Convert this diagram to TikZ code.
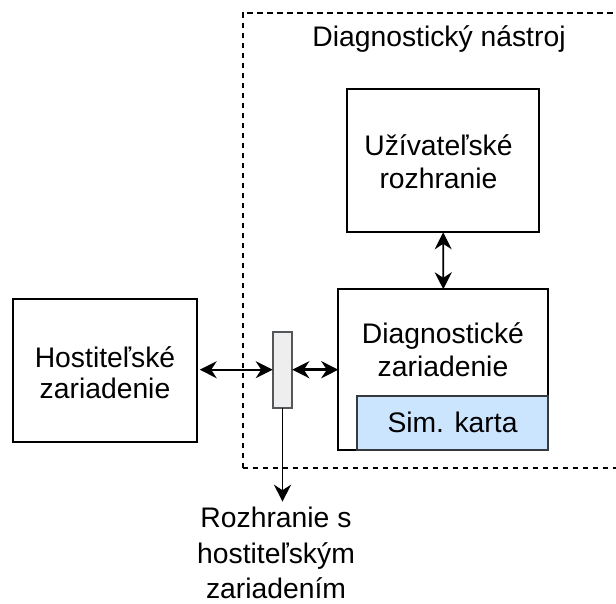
\documentclass[tikz,border=0pt]{standalone}
\usepackage{fontspec}
\setmainfont{Liberation Sans}
\usetikzlibrary{arrows.meta}
\definecolor{simfill}{HTML}{CCE5FF}
\definecolor{darkedge}{HTML}{36393D}
\definecolor{ifacefill}{HTML}{EEEEEE}
% fixed height for the first line of a multi-line label
\newcommand\firststrut{\rule{0pt}{26pt}}

\begin{document}
\begin{tikzpicture}[x=1pt,y=-1pt,
  box/.style={draw=black, line width=1.8pt, inner sep=0pt, outer sep=0pt},
  frame/.style={draw=black, line width=1.8pt, dash pattern=on 5.5pt off 4.5pt, inner sep=0pt, outer sep=0pt},
  txt/.style={inner sep=0pt, align=center, anchor=north},
  link/.style={line width=1.8pt, {Stealth[length=17pt, width=17pt, inset=5.5pt]}-{Stealth[length=17pt, width=17pt, inset=5.5pt]}},
  oneway/.style={line width=1.8pt, -{Stealth[length=17pt, width=17pt, inset=5.5pt]}}
]
\clip (0,0) rectangle (616,603);
\fill[white] (0,0) rectangle (616,603);

% tool frame, its right side runs past the page edge
\node[frame, minimum width=397.3pt, minimum height=455.6pt] (tool) at (441.35,240.5) {};
\node[anchor=base, inner sep=0pt, font=\fontsize{28.3}{31}\selectfont] (title) at (439,46.7) {Diagnostický nástroj};

% blocks
\node[box, minimum width=183.4pt, minimum height=142.7pt] (host) at (105,370.3) {};
\node[txt, font=\fontsize{28.3}{31}\selectfont] (hosttext) at (105,341) {\firststrut Hostiteľské\\zariadenie};

\node[box, minimum width=191.7pt, minimum height=143.3pt] (ui) at (443.15,160.65) {};
\node[txt, font=\fontsize{28.3}{32.6}\selectfont] (uitext) at (438.5,129.7) {\firststrut Užívateľské\\rozhranie};

\node[box, minimum width=210pt, minimum height=160.7pt] (diag) at (443.3,369.65) {};
\node[txt, font=\fontsize{28.3}{33.4}\selectfont] (diagtext) at (443,317.3) {\firststrut Diagnostické\\zariadenie};

\node[draw=darkedge, fill=simfill, line width=1.8pt, inner sep=0pt, outer sep=0pt,
      minimum width=191.6pt, minimum height=54.3pt, font=\fontsize{28.3}{31}\selectfont] (sim) at (452.5,422.85) {Sim. karta};

\node[draw=darkedge!85, fill=ifacefill, line width=1.8pt, inner sep=0pt, outer sep=0pt,
      minimum width=19.6pt, minimum height=76pt] (iface) at (282.5,369.7) {};

\node[txt, font=\fontsize{28.3}{35.3}\selectfont] (ifacetext) at (276,501.7) {\firststrut Rozhranie s\\hostiteľským\\zariadením};

% connectors
\draw[link, shorten <=3pt] (host.east |- iface.west) -- (iface.west);
\draw[link, line width=3.2pt] (iface.east) -- (diag.west |- iface.east);
\draw[link] (ui.south) -- (diag.north);
\draw[oneway] (iface.south) -- (iface.south |- ifacetext.north);
\end{tikzpicture}
\end{document}
